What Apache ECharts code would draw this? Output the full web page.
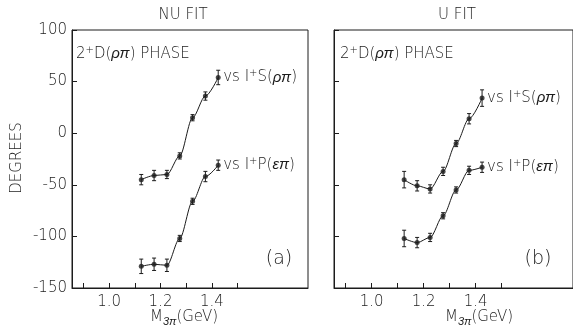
<!DOCTYPE html>
<html>
<head>
<meta charset="utf-8">
<script src="https://cdn.jsdelivr.net/npm/echarts@6/dist/echarts.min.js"></script>
<style>
  html, body { margin: 0; padding: 0; background: #fff; }
  #chart { width: 573px; height: 330px; }
</style>
</head>
<body>
<div id="chart"></div>
<script>
// M(3pi) bin centres, GeV
const massBins = [1.125, 1.175, 1.225, 1.275, 1.325, 1.375, 1.425];

// (a) NU fit
const nuSPhase = [-45, -41, -40, -22, 15, 36, 54];
const nuSErr = [5, 5, 4, 3, 3, 4, 7];
const nuPPhase = [-129, -127, -128, -102, -66, -42, -31];
const nuPErr = [7, 6, 6, 3, 3, 5, 5];

// (b) U fit
const uSPhase = [-45, -51, -54, -37, -10, 14, 34];
const uSErr = [8, 5, 4, 4, 3, 5, 8];
const uPPhase = [-102, -106, -101, -80, -55, -36, -33];
const uPErr = [8, 5, 4, 3, 3, 4, 5];

const xTicks = [0.9, 1.0, 1.1, 1.2, 1.3, 1.4, 1.5];
const xTickLabels = [1.0, 1.2, 1.4];

const INK = '#1c1c1c';
const FONT = 'DejaVu Sans';
const WEIGHT = 200;

const rich = {
  t: { fontFamily: FONT, fontWeight: WEIGHT, fontSize: 15, color: INK },
  g: { fontFamily: 'Liberation Sans', fontSize: 15, fontStyle: 'italic', color: INK },
  sup: { fontFamily: FONT, fontWeight: WEIGHT, fontSize: 10, color: INK, padding: [0, 0, 8, 0] },
  sub: { fontFamily: 'Liberation Sans', fontSize: 11, fontStyle: 'italic', color: INK, padding: [10, 0, 0, 0] },
};

const pairs = (ys) => massBins.map((x, i) => [x, ys[i]]);
const errRows = (ys, es) => massBins.map((x, i) => [x, ys[i], es[i]]);

function errorBar(params, api) {
  const x = api.value(0), y = api.value(1), e = api.value(2);
  const lo = api.coord([x, y - e]);
  const hi = api.coord([x, y + e]);
  const style = { stroke: INK, lineWidth: 1 };
  return {
    type: 'group',
    children: [
      { type: 'line', shape: { x1: lo[0], y1: lo[1], x2: hi[0], y2: hi[1] }, style },
      { type: 'line', shape: { x1: lo[0] - 2, y1: lo[1], x2: lo[0] + 2, y2: lo[1] }, style },
      { type: 'line', shape: { x1: hi[0] - 2, y1: hi[1], x2: hi[0] + 2, y2: hi[1] }, style },
    ],
  };
}

function curve(idx, ys, label) {
  return {
    type: 'line', xAxisIndex: idx, yAxisIndex: idx,
    data: pairs(ys), smooth: 0.3, smoothMonotone: 'x',
    symbol: 'none', lineStyle: { color: INK, width: 1 },
    endLabel: { show: true, distance: 5, formatter: label, rich },
    silent: true,
  };
}

function points(idx, ys) {
  return {
    type: 'scatter', xAxisIndex: idx, yAxisIndex: idx,
    data: pairs(ys), symbolSize: 5, itemStyle: { color: INK }, silent: true,
  };
}

function bars(idx, ys, es) {
  return {
    type: 'custom', xAxisIndex: idx, yAxisIndex: idx,
    data: errRows(ys, es), renderItem: errorBar, silent: true,
  };
}

const sLabel = '{t|vs I}{sup|+}{t|S(}{g|ρπ}{t|)}';
const pLabel = '{t|vs I}{sup|+}{t|P(}{g|επ}{t|)}';
const phaseLabel = '{t|2}{sup|+}{t|D(}{g|ρπ}{t|) PHASE}';

function xAxis(idx) {
  return {
    type: 'value', gridIndex: idx, min: 0.855, max: 1.775,
    axisLine: { onZero: false, lineStyle: { color: INK } },
    axisTick: { inside: true, length: 5, customValues: xTicks, lineStyle: { color: INK } },
    axisLabel: {
      customValues: xTickLabels, margin: 7, color: INK,
      fontFamily: FONT, fontWeight: WEIGHT, fontSize: 15,
      formatter: (v) => v.toFixed(1),
    },
    splitLine: { show: false },
  };
}

function yAxis(idx, showLabels) {
  return {
    type: 'value', gridIndex: idx, min: -150, max: 100, interval: 50,
    axisLine: { onZero: false, lineStyle: { color: INK } },
    axisTick: { inside: true, length: 5, lineStyle: { color: INK } },
    axisLabel: { show: showLabels, margin: 5, color: INK, fontFamily: FONT, fontWeight: WEIGHT, fontSize: 15 },
    splitLine: { show: false },
  };
}

const text = (x, y, str, size, align) => ({
  type: 'text', x, y,
  style: {
    text: str, fill: INK, fontFamily: FONT, fontWeight: WEIGHT, fontSize: size || 15,
    align: align || 'center', verticalAlign: 'middle', rich,
  },
});

const chart = echarts.init(document.getElementById('chart'));
chart.setOption({
  backgroundColor: '#fff',
  animation: false,
  grid: [
    { left: 72, top: 30, width: 236, height: 258, show: true, borderColor: INK, borderWidth: 1, backgroundColor: 'transparent' },
    { left: 334, top: 30, width: 242, height: 258, show: true, borderColor: INK, borderWidth: 1, backgroundColor: 'transparent' },
  ],
  xAxis: [xAxis(0), xAxis(1)],
  yAxis: [yAxis(0, true), yAxis(1, false)],
  graphic: [
    text(183, 15, 'NU FIT'),
    text(457, 15, 'U FIT'),
    { type: 'text', x: 17, y: 158, rotation: Math.PI / 2,
      style: { text: 'DEGREES', fill: INK, fontFamily: FONT, fontWeight: WEIGHT, fontSize: 15, align: 'center', verticalAlign: 'middle' } },
    text(76, 54, phaseLabel, 15, 'left'),
    text(340, 54, phaseLabel, 15, 'left'),
    text(279, 259, '(a)', 19),
    text(538, 259, '(b)', 19),
    text(184, 317, '{t|M}{sub|3π}{t|(GeV)}'),
    text(479, 317, '{t|M}{sub|3π}{t|(GeV)}'),
  ],
  series: [
    curve(0, nuSPhase, sLabel), bars(0, nuSPhase, nuSErr), points(0, nuSPhase),
    curve(0, nuPPhase, pLabel), bars(0, nuPPhase, nuPErr), points(0, nuPPhase),
    curve(1, uSPhase, sLabel), bars(1, uSPhase, uSErr), points(1, uSPhase),
    curve(1, uPPhase, pLabel), bars(1, uPPhase, uPErr), points(1, uPPhase),
  ],
});
</script>
</body>
</html>
